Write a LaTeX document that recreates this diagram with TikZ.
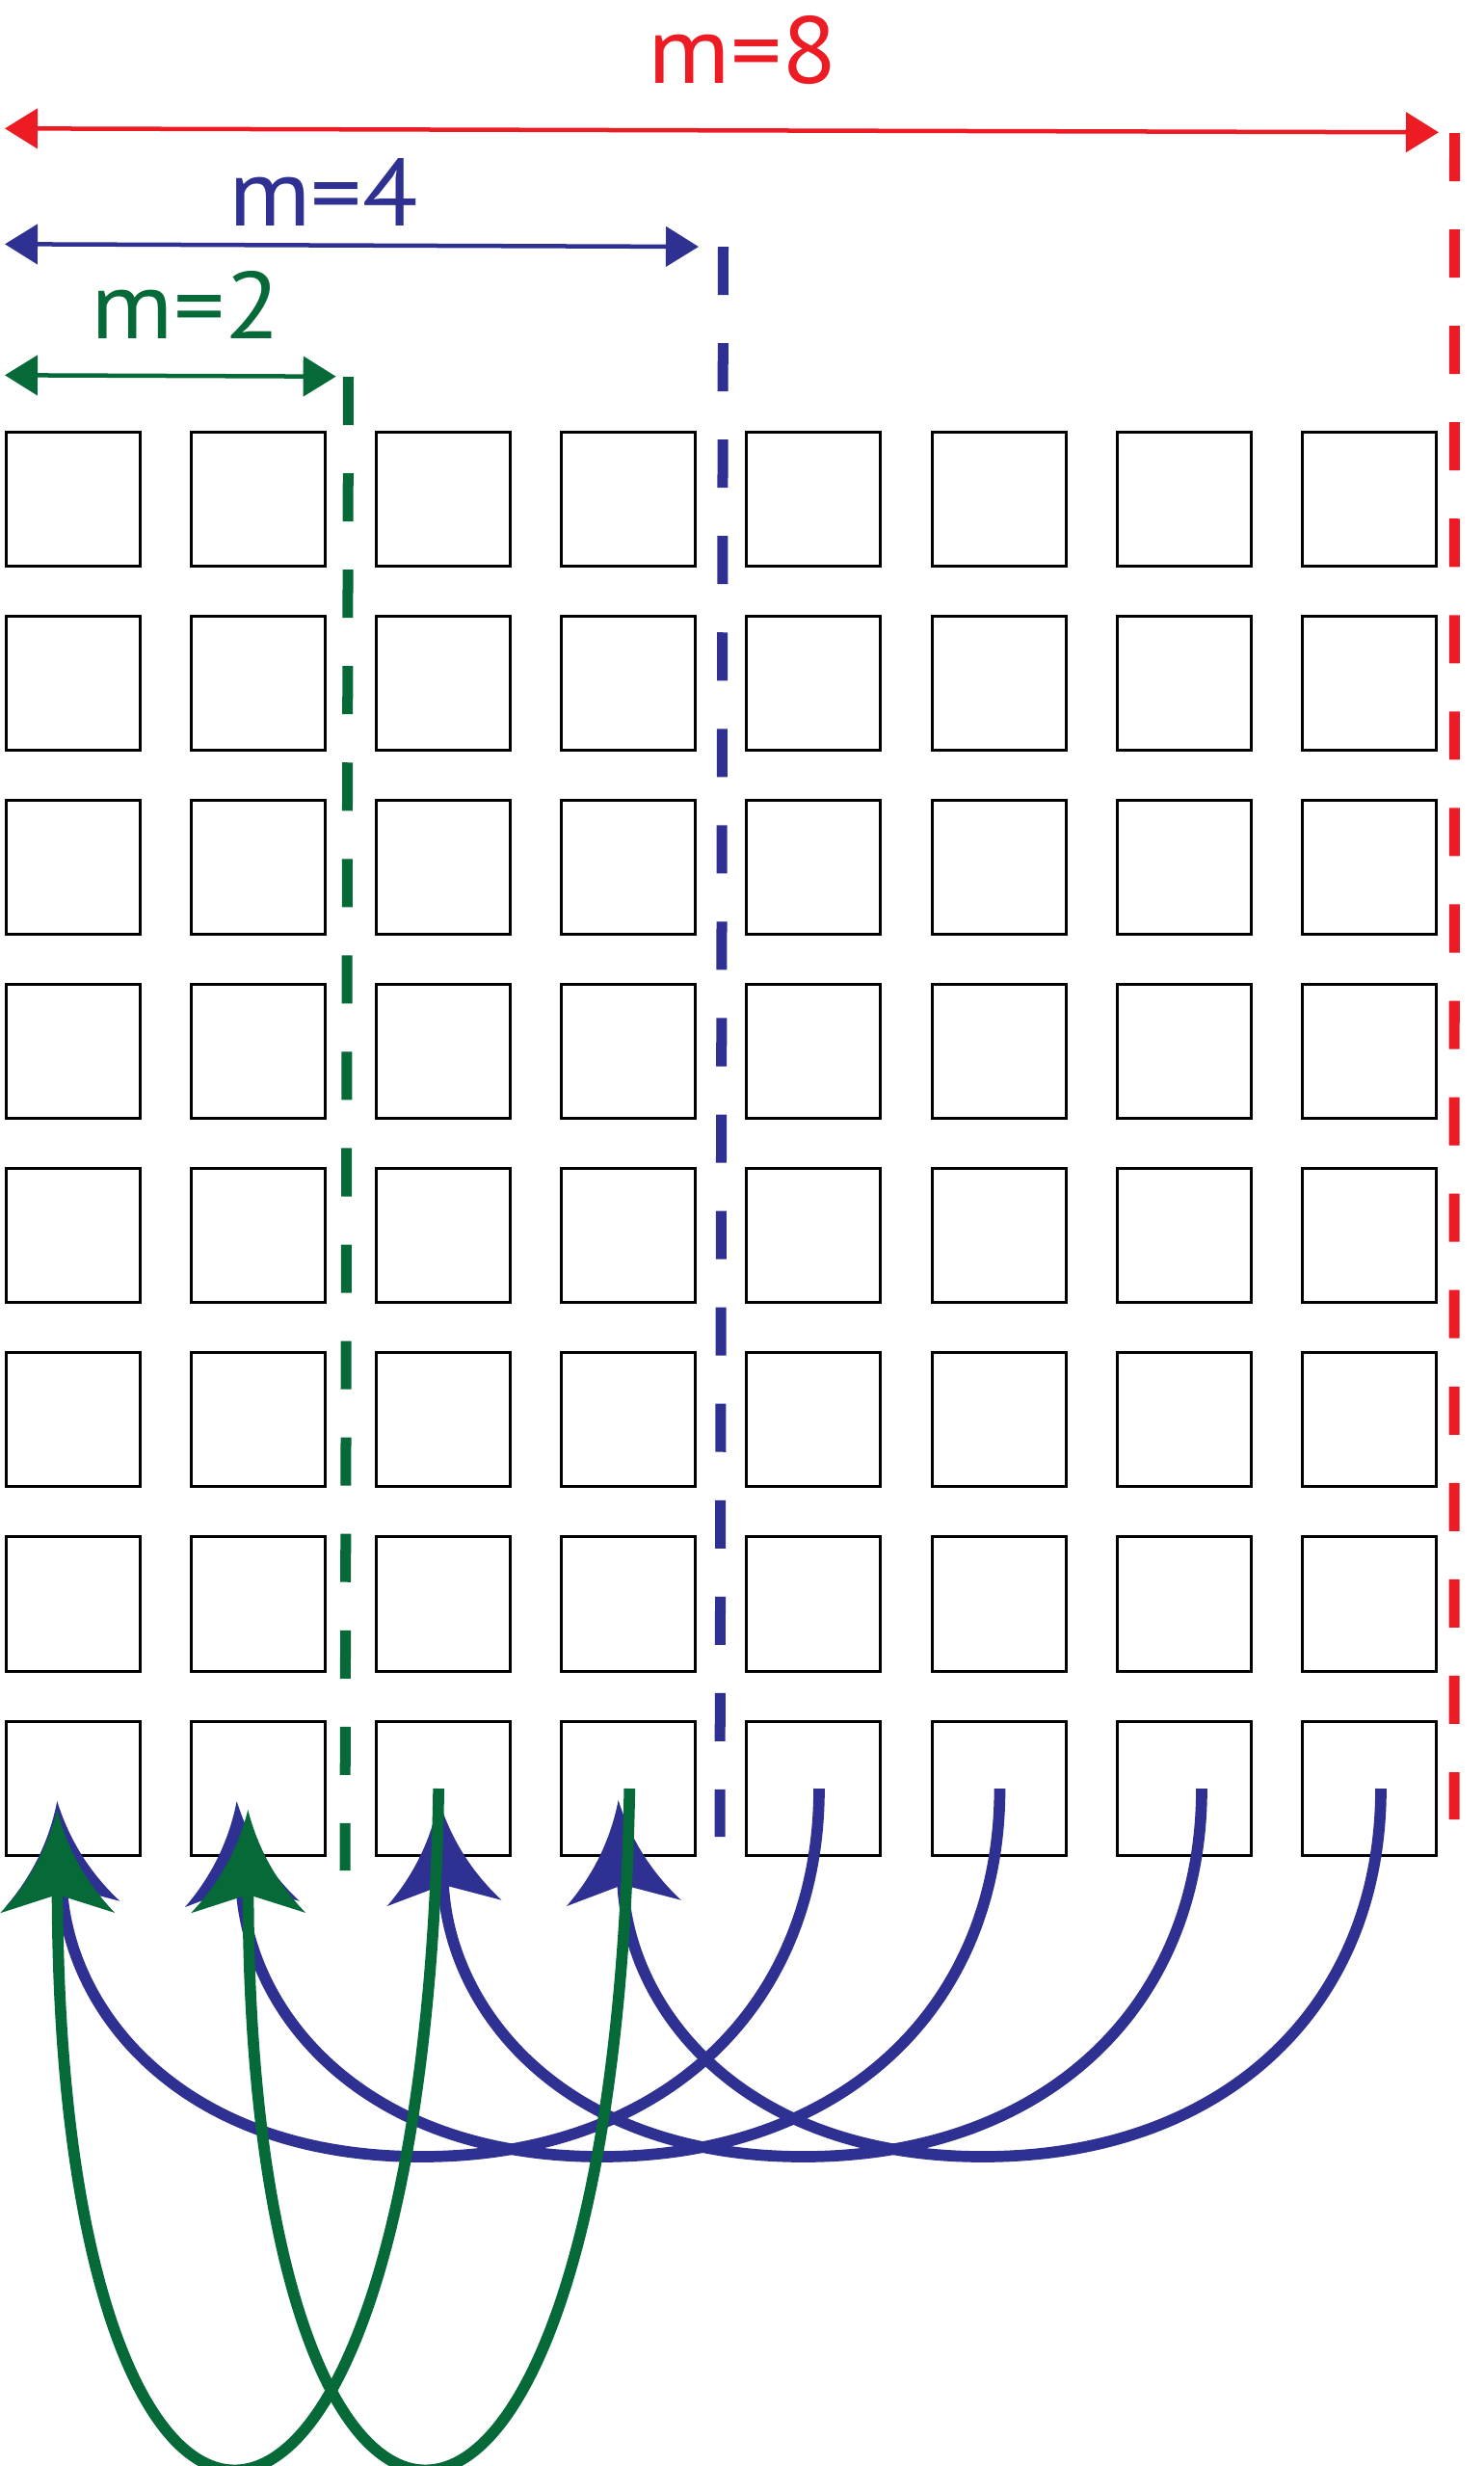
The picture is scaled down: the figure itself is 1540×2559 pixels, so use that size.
\documentclass[tikz,border=0pt]{standalone}
\usepackage{fontspec}
\newfontfamily\labelfont[FakeStretch=1.07]{PT Sans}
\usetikzlibrary{arrows.meta}
\definecolor{myred}{RGB}{237,28,36}
\definecolor{myblue}{RGB}{46,49,146}
\definecolor{mygreen}{RGB}{6,105,56}

\pgfdeclarearrow{
  name = Barb,
  parameters = {\the\pgfarrowlength,\the\pgfarrowwidth,\the\pgfarrowinset},
  setup code = {
    \pgfarrowssettipend{\pgfarrowlength}
    \pgfarrowssetlineend{\pgfarrowinset}
    \pgfarrowssetvisualbackend{\pgfarrowinset}
    \pgfarrowssetbackend{0pt}
    \pgfarrowshullpoint{\pgfarrowlength}{0pt}
    \pgfarrowsupperhullpoint{0pt}{.5\pgfarrowwidth}
    \pgfarrowssavethe\pgfarrowlength
    \pgfarrowssavethe\pgfarrowwidth
    \pgfarrowssavethe\pgfarrowinset
  },
  drawing code = {
    \pgfpathmoveto{\pgfqpoint{\pgfarrowlength}{0pt}}
    \pgfpathquadraticcurveto{\pgfqpoint{.428\pgfarrowlength}{.130\pgfarrowwidth}}{\pgfqpoint{0pt}{.5\pgfarrowwidth}}
    \pgfpathlineto{\pgfqpoint{\pgfarrowinset}{0pt}}
    \pgfpathlineto{\pgfqpoint{0pt}{-.5\pgfarrowwidth}}
    \pgfpathquadraticcurveto{\pgfqpoint{.428\pgfarrowlength}{-.130\pgfarrowwidth}}{\pgfqpoint{\pgfarrowlength}{0pt}}
    \pgfpathclose
    \pgfusepathqfill
  },
  defaults = {length=3mm, width=3mm, inset=.5mm}
}

\tikzset{
  cell/.style={draw=black, line width=0.03cm, minimum width=1.39cm, minimum height=1.39cm, inner sep=0pt},
  lbl/.style={inner sep=0pt, anchor=base, font=\labelfont\fontsize{28}{30}\selectfont},
  span/.style={line width=0.045cm, {Triangle[length=0.34cm,width=0.41cm]}-{Triangle[length=0.34cm,width=0.41cm]}},
  cut/.style={line width=0.11cm, dash pattern=on 0.5cm off 0.5cm},
  arc/.style={line width=0.117cm, -{Barb[length=1.07cm,width=1.19cm,inset=0.19cm]}},
}

\begin{document}
\begin{tikzpicture}[x=0.01cm, y=-0.01cm]
\useasboundingbox (0,0) rectangle (1540,2559);

% grid of cells
\foreach \i in {0,...,7}{
  \foreach \j in {0,...,7}{
    \node[cell] (b\i\j) at ({75.85+192.14*\i},{517.9+191.1*\j}) {};
  }
}

% span arrows and labels
\coordinate (r1) at (5,133.3);   \coordinate (r2) at (1493,137.3);
\coordinate (u1) at (5,253.3);   \coordinate (u2) at (725,256);
\coordinate (g1) at (5,389.3);   \coordinate (g2) at (348.7,390.7);
\draw[span, color=myred] (r1) -- (r2);
\draw[span, color=myblue] (u1) -- (u2);
\draw[span, color=mygreen] (g1) -- (g2);
\node[lbl, text=myred] (l8) at (771,86) {m=8};
\node[lbl, text=myblue] (l4) at (335.5,234) {m=4};
\node[lbl, text=mygreen] (l2) at (193,351) {m=2};

% dashed separators
\coordinate (rd1) at (1509.5,138); \coordinate (rd2) at (1509,1888);
\coordinate (ud1) at (750.5,256);  \coordinate (ud2) at (747,1906);
\coordinate (gd1) at (361.5,391);  \coordinate (gd2) at (358,1941);
\draw[cut, myred] (rd1) -- (rd2);
\draw[cut, myblue] (ud1) -- (ud2);
\draw[cut, mygreen] (gd1) -- (gd2);

% blue arcs (m=4)
\coordinate (bs1) at (850,1856);   \coordinate (bb1) at (437.3,2238);  \coordinate (bt1) at (59.3,1869);
\coordinate (bs2) at (1037.5,1856);\coordinate (bb2) at (624.2,2238);  \coordinate (bt2) at (245.7,1869);
\coordinate (bs3) at (1247,1856);  \coordinate (bb3) at (833.8,2238);  \coordinate (bt3) at (455.4,1868);
\coordinate (bs4) at (1433,1856);  \coordinate (bb4) at (1019.9,2238); \coordinate (bt4) at (641.7,1868);
\foreach \k in {1,...,4}{
  \draw[arc, color=myblue] (bs\k) .. controls +(0,229) and +(248,0) .. (bb\k)
        .. controls +(-246,0) and +(11.7,221) .. (bt\k);
}

% green arcs (m=2)
\coordinate (gs1) at (455.2,1856); \coordinate (gt1) at (59.3,1878);
\coordinate (gs2) at (653.3,1856); \coordinate (gt2) at (257.3,1878);
\foreach \k in {1,2}{
  \draw[arc, color=mygreen] (gs\k) .. controls +(-15.2,924) and +(2.7,902) .. (gt\k);
}
\end{tikzpicture}
\end{document}
